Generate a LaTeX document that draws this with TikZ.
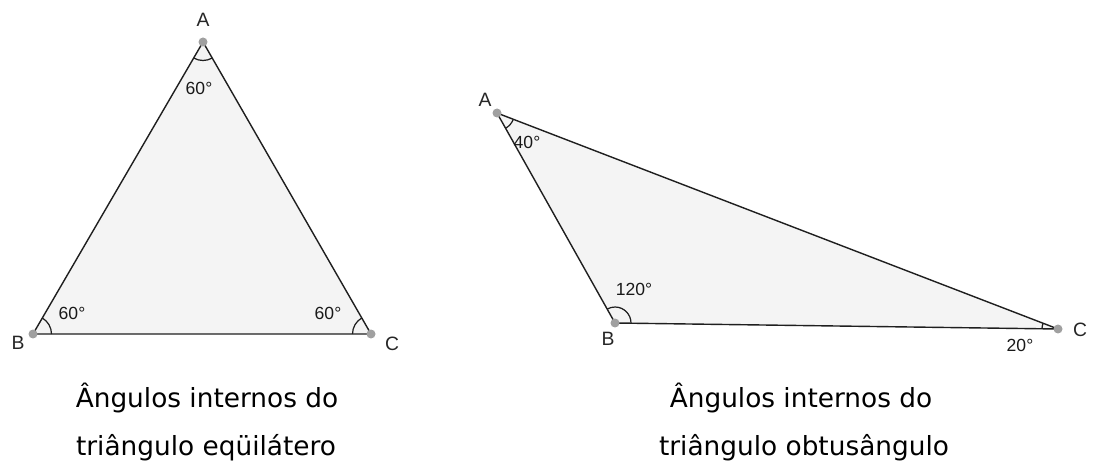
\documentclass[tikz,border=0pt]{standalone}
\usepackage{fontspec}
\usepackage{xcolor}
\usepackage{tikz}
\usetikzlibrary{angles, positioning, calc}
\newfontfamily\capfont{DejaVu Sans}
\newfontfamily\labfont{Liberation Sans}
\definecolor{trifill}{HTML}{F4F4F4}
\definecolor{dotgray}{HTML}{A0A0A0}
\tikzset{
  tri/.style={draw=black!88, line width=0.8pt, fill=trifill, line join=round},
  vtx/.style={circle, fill=dotgray, inner sep=0pt, minimum size=1.8mm},
  lbl/.style={font=\labfont\fontsize{11}{13}\selectfont, text=black!85, inner sep=0pt},
  deg/.style={font=\labfont\fontsize{10}{12}\selectfont, text=black!90, inner sep=0pt},
  arcmark/.style={draw=black!88, line width=0.7pt, angle radius=0.37cm},
  caption/.style={font=\capfont\fontsize{15}{18}\selectfont, inner sep=0pt},
}

\begin{document}
\begin{tikzpicture}[x=0.02cm, y=-0.02cm]
\useasboundingbox (0,0) rectangle (1110,466);
% equilateral triangle
\coordinate (eA) at (203,42);
\coordinate (eB) at (33,334);
\coordinate (eC) at (371,334);
\draw[tri] (eA) -- (eB) -- (eC) -- cycle;
\pic[arcmark] {angle = eB--eA--eC};
\pic[arcmark] {angle = eC--eB--eA};
\pic[arcmark] {angle = eA--eC--eB};
\foreach \v in {eA, eB, eC} \node[vtx] at (\v) {};
\node[lbl] (eAl) at (203,20) {A};
\node[lbl] (eBl) at (18,343) {B};
\node[lbl] (eCl) at (392,344) {C};
\node[deg] (eAd) at (199,88) {60°};
\node[deg] (eBd) at (72,313) {60°};
\node[deg] (eCd) at (328,313) {60°};
\node[caption] (ecap1) at (207,398) {Ângulos internos do};
\node[caption] (ecap2) at (206,448) {triângulo eqüilátero};
% obtuse triangle
\coordinate (oA) at (497,113);
\coordinate (oB) at (615,323);
\coordinate (oC) at (1058,329);
\draw[tri] (oA) -- (oB) -- (oC) -- cycle;
\pic[arcmark, angle radius=0.35cm] {angle = oB--oA--oC};
\pic[arcmark, angle radius=0.32cm] {angle = oC--oB--oA};
\pic[arcmark, angle radius=0.32cm] {angle = oA--oC--oB};
\foreach \v in {oA, oB, oC} \node[vtx] at (\v) {};
\node[lbl] (oAl) at (485,100) {A};
\node[lbl] (oBl) at (608,339) {B};
\node[lbl] (oCl) at (1080,330) {C};
\node[deg] (oAd) at (527,142) {40°};
\node[deg] (oBd) at (634,289) {120°};
\node[deg] (oCd) at (1020,345) {20°};
\node[caption] (ocap1) at (801,398) {Ângulos internos do};
\node[caption] (ocap2) at (804,448) {triângulo obtusângulo};
\end{tikzpicture}
\end{document}
